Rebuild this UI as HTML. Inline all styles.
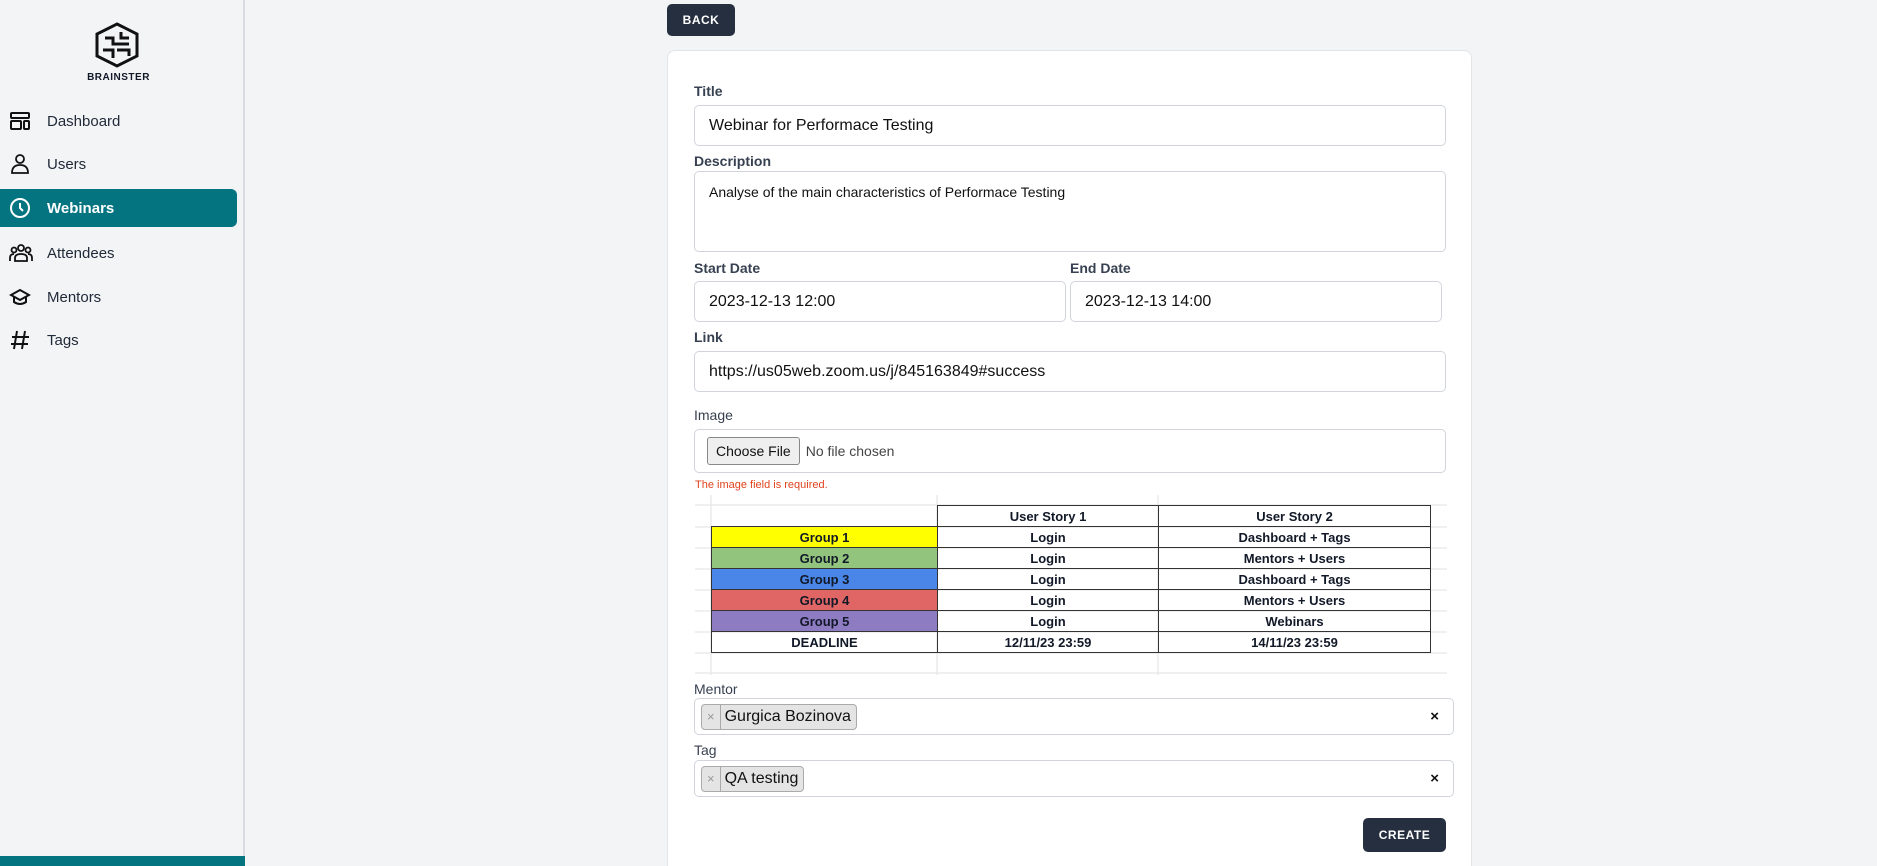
<!DOCTYPE html>
<html style="overflow:hidden;width:1877px;height:866px"><head><meta charset="utf-8"><style>
*{box-sizing:border-box;margin:0;padding:0}
body{width:1877px;height:866px;overflow:hidden;background:#f3f4f6;font-family:"Liberation Sans",sans-serif;position:relative;color:#111827}
.a{position:absolute}
#side{left:0;top:0;width:245px;height:866px;background:#f3f4f6;border-right:2px solid #d8dbe0}
.nav{left:0;width:237px;height:38px;display:flex;align-items:center;font-size:15px;color:#1f2937}
.nav svg{position:absolute;left:9px}
.nav span{position:absolute;left:47px}
.lbl{left:694px;font-size:14px;color:#374151;font-weight:bold}
.inp{left:694px;width:752px;background:#fff;border:1px solid #d1d5db;border-radius:5px;font-size:16px;color:#111;padding-left:14px;display:flex;align-items:center}
.btn{background:#252f3f;color:#fff;font-weight:bold;font-size:12px;letter-spacing:.5px;border-radius:5px;display:flex;align-items:center;justify-content:center}
table{border-collapse:collapse;font-size:13px;font-weight:bold;text-align:center}
td{border:1.5px solid #333;height:21px;padding:0}
.chip{background:#e4e4e4;border:1px solid #aaa;border-radius:4px;height:26px;display:flex;align-items:center;font-size:16px;color:#111}
.chip i{font-style:normal;color:#999;font-size:13px;padding:0 5px;border-right:1px solid #aaa;height:100%;display:flex;align-items:center}
.chip b{font-weight:normal;padding:0 5px 0 4px}
</style></head><body>
<div id="side" class="a">
 <svg class="a" style="left:93px;top:22px" width="48" height="46" viewBox="0 0 48 46" fill="none" stroke="#111" stroke-width="3"><polygon points="24,2 44,12 44,34 24,44 4,34 4,12"/><path d="M12,16 h8 v6 h10 M28,10 v6 h8 M10,28 h10 v8 M24,28 h12 v6 M30,22 h6"/></svg>
 <div class="a" style="left:0;width:237px;top:72px;text-align:center;font-size:10px;font-weight:bold;letter-spacing:.5px">BRAINSTER</div>
 <div class="a nav" style="top:102px"><svg width="22" height="20" viewBox="0 0 22 20" fill="none" stroke="#111" stroke-width="2"><rect x="2" y="2" width="18" height="5" rx="1"/><rect x="2" y="10" width="10" height="8" rx="1"/><rect x="15" y="10" width="5" height="8" rx="1"/></svg><span>Dashboard</span></div>
 <div class="a nav" style="top:145px"><svg width="22" height="22" viewBox="0 0 22 22" fill="none" stroke="#111" stroke-width="1.8"><circle cx="11" cy="6" r="4"/><path d="M3,20 q0,-8 8,-8 q8,0 8,8 z"/></svg><span>Users</span></div>
 <div class="a nav" style="top:189px;background:#047481;border-radius:0 6px 6px 0;color:#fff;font-weight:bold"><svg width="22" height="22" viewBox="0 0 22 22" fill="none" stroke="#fff" stroke-width="2"><circle cx="11" cy="11" r="9"/><path d="M11,6 v5 l3,3"/></svg><span>Webinars</span></div>
 <div class="a nav" style="top:234px"><svg width="24" height="20" viewBox="0 0 24 20" fill="none" stroke="#111" stroke-width="1.8"><circle cx="12" cy="5" r="3"/><circle cx="5" cy="7" r="2.5"/><circle cx="19" cy="7" r="2.5"/><path d="M1,18 v-3 q0,-4 4,-4 M23,18 v-3 q0,-4 -4,-4 M6,18 v-3 q0,-4 6,-4 q6,0 6,4 v3 z"/></svg><span>Attendees</span></div>
 <div class="a nav" style="top:278px"><svg width="22" height="20" viewBox="0 0 22 20" fill="none" stroke="#111" stroke-width="2"><path d="M11,3 l9,5 l-9,5 l-9,-5 z M5,10 v5 q6,4 12,0 v-5"/></svg><span>Mentors</span></div>
 <div class="a nav" style="top:321px"><svg width="22" height="22" viewBox="0 0 22 22" fill="none" stroke="#111" stroke-width="2"><path d="M8,2 l-3,18 M16,2 l-3,18 M3,8 h17 M2,15 h17"/></svg><span>Tags</span></div>
 <div class="a" style="left:0;top:856px;width:245px;height:10px;background:#047481"></div>
</div>
<div class="a btn" style="left:667px;top:4px;width:68px;height:32px">BACK</div>
<div class="a" style="left:667px;top:50px;width:805px;height:830px;background:#fff;border:1px solid #e2e4e8;border-radius:8px"></div>
<div class="a lbl" style="top:83px">Title</div>
<div class="a inp" style="top:105px;height:41px">Webinar for Performace Testing</div>
<div class="a lbl" style="top:153px">Description</div>
<div class="a inp" style="top:171px;height:81px;align-items:flex-start;padding-top:12px;font-size:14px">Analyse of the main characteristics of Performace Testing</div>
<div class="a lbl" style="top:260px">Start Date</div>
<div class="a lbl" style="top:260px;left:1070px">End Date</div>
<div class="a inp" style="top:281px;height:41px;width:372px">2023-12-13 12:00</div>
<div class="a inp" style="top:281px;height:41px;width:372px;left:1070px">2023-12-13 14:00</div>
<div class="a lbl" style="top:329px">Link</div>
<div class="a inp" style="top:351px;height:41px">https://us05web.zoom.us/j/845163849#success</div>
<div class="a lbl" style="top:407px;font-weight:normal">Image</div>
<div class="a inp" style="top:429px;height:44px;padding-left:12px;font-size:14px;color:#444"><span style="background:#efefef;border:1px solid #888;border-radius:3px;padding:5px 8px;color:#111;margin-right:6px">Choose File</span>No file chosen</div>
<div class="a" style="left:695px;top:479px;font-size:11px;color:#e0431d">The image field is required.</div>
<svg class="a" style="left:695px;top:495px" width="752" height="180"><g stroke="#e2e2e2" stroke-width="1"><path d="M0,10 H752 M0,32 H752 M0,53 H752 M0,74 H752 M0,95 H752 M0,116 H752 M0,137 H752 M0,158 H752 M0,178 H752 M16,0 V180 M242,0 V180 M463,0 V180"/></g></svg>
<table class="a" style="left:711px;top:505px;width:720px">
<tr><td style="width:226px;border:none;border-right:1.5px solid #333"></td><td style="width:221px">User Story 1</td><td>User Story 2</td></tr>
<tr><td style="background:#ffff00">Group 1</td><td>Login</td><td>Dashboard + Tags</td></tr>
<tr><td style="background:#93c47d">Group 2</td><td>Login</td><td>Mentors + Users</td></tr>
<tr><td style="background:#4a86e8">Group 3</td><td>Login</td><td>Dashboard + Tags</td></tr>
<tr><td style="background:#e06666">Group 4</td><td>Login</td><td>Mentors + Users</td></tr>
<tr><td style="background:#8e7cc3">Group 5</td><td>Login</td><td>Webinars</td></tr>
<tr><td>DEADLINE</td><td>12/11/23 23:59</td><td>14/11/23 23:59</td></tr>
</table>
<div class="a lbl" style="top:681px;font-weight:normal">Mentor</div>
<div class="a inp" style="top:698px;height:37px;width:760px;padding-left:6px"><div class="chip"><i>×</i><b>Gurgica Bozinova</b></div><span class="a" style="right:14px;font-size:15px;font-weight:bold">×</span></div>
<div class="a lbl" style="top:742px;font-weight:normal">Tag</div>
<div class="a inp" style="top:760px;height:37px;width:760px;padding-left:6px"><div class="chip"><i>×</i><b>QA testing</b></div><span class="a" style="right:14px;font-size:15px;font-weight:bold">×</span></div>
<div class="a btn" style="left:1363px;top:818px;width:83px;height:34px">CREATE</div>
</body></html>
